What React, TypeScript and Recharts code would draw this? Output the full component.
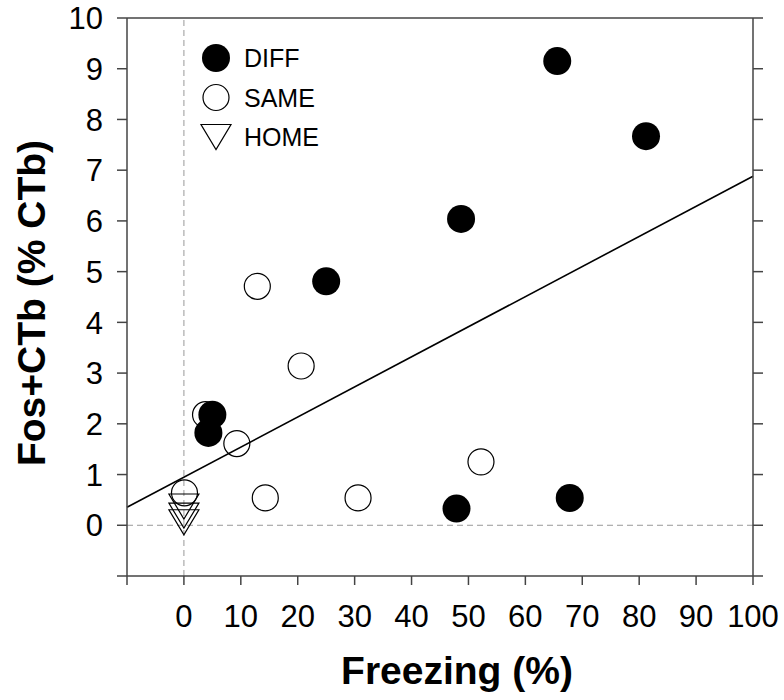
import React from 'react'
import { ScatterChart, Scatter, XAxis, YAxis, ReferenceLine } from 'recharts'

// values
const diffFreezing = [65.6, 81.2, 48.7, 25.0, 5.0, 4.3, 47.9, 67.8]
const diffFos = [9.15, 7.67, 6.04, 4.81, 2.18, 1.82, 0.33, 0.54]
const sameFreezing = [12.9, 20.6, 3.8, 9.3, 0.1, 14.3, 30.6, 52.2]
const sameFos = [4.71, 3.14, 2.18, 1.61, 0.64, 0.54, 0.54, 1.25]
const homeFreezing = [0, 0, 0]
const homeFos = [0.37, 0.19, 0.06]

// regression line end points
const fitX = [-10, 100]
const fitY = [0.355, 6.88]

const xTicks = [-10, 0, 10, 20, 30, 40, 50, 60, 70, 80, 90, 100]
const yTicks = [-1, 0, 1, 2, 3, 4, 5, 6, 7, 8, 9, 10]
const seriesNames = ['DIFF', 'SAME', 'HOME']

const toPoints = (xs: number[], ys: number[]) => xs.map((x, i) => ({ x, y: ys[i] }))

const diffData = toPoints(diffFreezing, diffFos)
const sameData = toPoints(sameFreezing, sameFos)
const homeData = toPoints(homeFreezing, homeFos)

const FONT = '"Liberation Sans", Arial, Helvetica, sans-serif'
const AXIS = '#444'
const TICK_FONT = 31

const FilledDot = (p: any) => <circle cx={p.cx} cy={p.cy} r={14} fill="#000" />
const OpenDot = (p: any) => (
  <circle cx={p.cx} cy={p.cy} r={13} fill="none" stroke="#000" strokeWidth={1.2} />
)
const DownTriangle = (p: any) => (
  <polygon
    points={`${p.cx - 15},${p.cy - 12.5} ${p.cx + 15},${p.cy - 12.5} ${p.cx},${p.cy + 12.5}`}
    fill="none"
    stroke="#000"
    strokeWidth={1.2}
  />
)

const markers = [FilledDot, OpenDot, DownTriangle]

// legend drawn inside the plot, top left
const LegendBox = () => (
  <g>
    {seriesNames.map((name, i) => {
      const Marker = markers[i]
      const cy = 58 + i * 39.5
      return (
        <g key={name}>
          <Marker cx={216} cy={cy} />
          <text x={244} y={cy + 9} fontSize={25} fontFamily={FONT} fill="#000">
            {name}
          </text>
        </g>
      )
    })}
  </g>
)

const XTick = (p: any) =>
  p.payload.value < 0 ? null : (
    <text
      x={p.x}
      y={p.y}
      dy="0.71em"
      textAnchor="middle"
      fontSize={TICK_FONT}
      fontFamily={FONT}
      fill="#000"
    >
      {p.payload.value}
    </text>
  )

const YTick = (p: any) =>
  p.payload.value < 0 ? null : (
    <text
      x={p.x}
      y={p.y}
      dy="0.36em"
      textAnchor="end"
      fontSize={TICK_FONT}
      fontFamily={FONT}
      fill="#000"
    >
      {p.payload.value}
    </text>
  )

const blank = () => ''
const lineStyle = { stroke: AXIS, strokeWidth: 1.5 }

export default function App() {
  return (
    <div style={{ position: 'absolute', left: 0, top: 0, background: '#fff' }}>
      <ScatterChart
        width={784}
        height={700}
        margin={{ top: 17, right: 30, left: 0, bottom: 0 }}
      >
        <XAxis
          type="number"
          dataKey="x"
          domain={[-10, 100]}
          ticks={xTicks}
          allowDataOverflow
          height={124}
          tickSize={9}
          tickMargin={20}
          tick={XTick}
          axisLine={lineStyle}
          tickLine={lineStyle}
          label={{
            content: () => (
              <text
                x={457}
                y={684}
                textAnchor="middle"
                fontSize={39}
                fontWeight="bold"
                fontFamily={FONT}
                fill="#000"
              >
                Freezing (%)
              </text>
            ),
          }}
        />
        <XAxis
          xAxisId="top"
          orientation="top"
          type="number"
          domain={[-10, 100]}
          ticks={xTicks}
          allowDataOverflow
          height={1}
          tickSize={10}
          tickFormatter={blank}
          axisLine={lineStyle}
          tickLine={lineStyle}
          label={{ content: () => <LegendBox /> }}
        />
        <YAxis
          type="number"
          dataKey="y"
          domain={[-1, 10]}
          ticks={yTicks}
          allowDataOverflow
          width={127}
          tickSize={10}
          tickMargin={14}
          tick={YTick}
          axisLine={lineStyle}
          tickLine={lineStyle}
          label={{
            content: () => (
              <text
                x={31}
                y={303}
                transform="rotate(-90 31 303)"
                textAnchor="middle"
                dominantBaseline="central"
                fontSize={39}
                fontWeight="bold"
                fontFamily={FONT}
                fill="#000"
              >
                Fos+CTb (% CTb)
              </text>
            ),
          }}
        />
        <YAxis
          yAxisId="right"
          orientation="right"
          type="number"
          domain={[-1, 10]}
          ticks={yTicks}
          allowDataOverflow
          width={1}
          tickSize={10}
          tickFormatter={blank}
          axisLine={lineStyle}
          tickLine={lineStyle}
        />
        <ReferenceLine x={0} stroke="#999" strokeDasharray="6 4" />
        <ReferenceLine y={0} stroke="#999" strokeDasharray="6 4" />
        <ReferenceLine
          segment={[
            { x: fitX[0], y: fitY[0] },
            { x: fitX[1], y: fitY[1] },
          ]}
          stroke="#000"
          strokeWidth={1.6}
          ifOverflow="visible"
        />
        <Scatter name="HOME" data={homeData} shape={DownTriangle} isAnimationActive={false} />
        <Scatter name="SAME" data={sameData} shape={OpenDot} isAnimationActive={false} />
        <Scatter name="DIFF" data={diffData} shape={FilledDot} isAnimationActive={false} />
      </ScatterChart>
    </div>
  )
}
